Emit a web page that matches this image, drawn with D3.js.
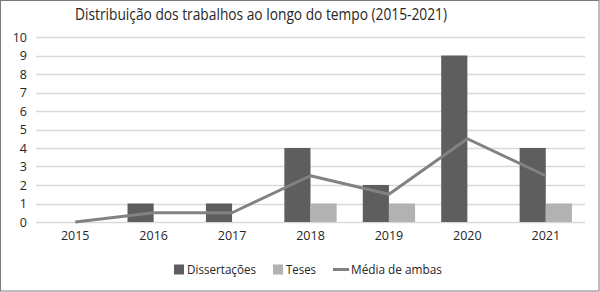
<!DOCTYPE html>
<html><head><meta charset="utf-8">
<script src="https://cdn.jsdelivr.net/npm/d3@7"></script>
<style>body{margin:0;background:#fff}svg{display:block}text{font-family:"Open Sans",sans-serif}</style>
</head><body>
<svg id="c" width="600" height="292"></svg>
<script>
const categories = ["2015","2016","2017","2018","2019","2020","2021"];
const dissertacoes = [0,1,1,4,2,9,4];
const teses = [0,0,0,1,1,0,1];
const media = [0,0.5,0.5,2.5,1.5,4.5,2.5];
const yTicks = [0,1,2,3,4,5,6,7,8,9,10];
const title = "Distribuição dos trabalhos ao longo do tempo (2015-2021)";
const seriesNames = ["Dissertações","Teses","Média de ambas"];

const svg = d3.select("#c");
const cDiss = "#5e5e5e", cTes = "#b2b2b2", cLine = "#828282", txt = "#262626";
const FF = '"Open Sans",sans-serif';
svg.append("rect").attr("x",0.5).attr("y",0.5).attr("width",598.5).attr("height",290.5)
  .attr("fill","#fff").attr("stroke","#7a7a7a").attr("stroke-width",1);

const x = d3.scaleBand().domain(categories).range([36,585]);
const y = d3.scaleLinear().domain([0,10]).range([222,37]);
const xs = d3.scaleBand().domain(["d","t"]).range([0,x.bandwidth()]).paddingOuter(0.5);

svg.append("text").attr("x",261).attr("y",20).attr("text-anchor","middle")
  .attr("font-size",16).attr("fill",txt)
  .attr("textLength",372).attr("lengthAdjust","spacingAndGlyphs").text(title);

const grid = svg.append("g");
grid.selectAll("line").data(yTicks).join("line")
  .attr("x1",36).attr("x2",585).attr("y1",d=>Math.round(y(d))+0.5).attr("y2",d=>Math.round(y(d))+0.5)
  .attr("stroke","#d9d9d9").attr("stroke-width",1.5);

const yAxis = svg.append("g").attr("transform","translate(36,0)")
  .call(d3.axisLeft(y).tickValues(yTicks).tickSize(0).tickPadding(9));
yAxis.select(".domain").remove();
yAxis.selectAll("text").attr("font-size",12.5).attr("fill",txt).style("font-family",FF);

const xAxis = svg.append("g").attr("transform","translate(0,222)")
  .call(d3.axisBottom(x).tickSize(0).tickPadding(9));
xAxis.select(".domain").remove();
xAxis.selectAll("text").attr("font-size",12.5).attr("fill",txt).style("font-family",FF);

const g = svg.append("g");
g.selectAll(".d").data(categories).join("rect")
  .attr("x",(c)=>x(c)+xs("d")).attr("width",xs.bandwidth())
  .attr("y",(c,i)=>y(dissertacoes[i])).attr("height",(c,i)=>y(0)-y(dissertacoes[i]))
  .attr("fill",cDiss);
g.selectAll(".t").data(categories).join("rect")
  .attr("x",(c)=>x(c)+xs("t")).attr("width",xs.bandwidth())
  .attr("y",(c,i)=>y(teses[i])).attr("height",(c,i)=>y(0)-y(teses[i]))
  .attr("fill",cTes);

const line = d3.line().x((d,i)=>x(categories[i])+x.bandwidth()/2).y(d=>y(d));
svg.append("path").datum(media).attr("d",line).attr("fill","none")
  .attr("stroke",cLine).attr("stroke-width",3).attr("stroke-linejoin","round");

const lg = svg.append("g").attr("font-size",12.5).attr("fill",txt);
lg.append("rect").attr("x",174).attr("y",264.5).attr("width",10).attr("height",10).attr("fill",cDiss);
lg.append("text").attr("x",187).attr("y",274).attr("textLength",69).attr("lengthAdjust","spacingAndGlyphs").text(seriesNames[0]);
lg.append("rect").attr("x",273).attr("y",264.5).attr("width",10).attr("height",10).attr("fill",cTes);
lg.append("text").attr("x",286).attr("y",274).attr("textLength",30).attr("lengthAdjust","spacingAndGlyphs").text(seriesNames[1]);
lg.append("line").attr("x1",333).attr("x2",349).attr("y1",269.5).attr("y2",269.5).attr("stroke",cLine).attr("stroke-width",3);
lg.append("text").attr("x",351).attr("y",274).attr("textLength",91).attr("lengthAdjust","spacingAndGlyphs").text(seriesNames[2]);
</script>
</body></html>
